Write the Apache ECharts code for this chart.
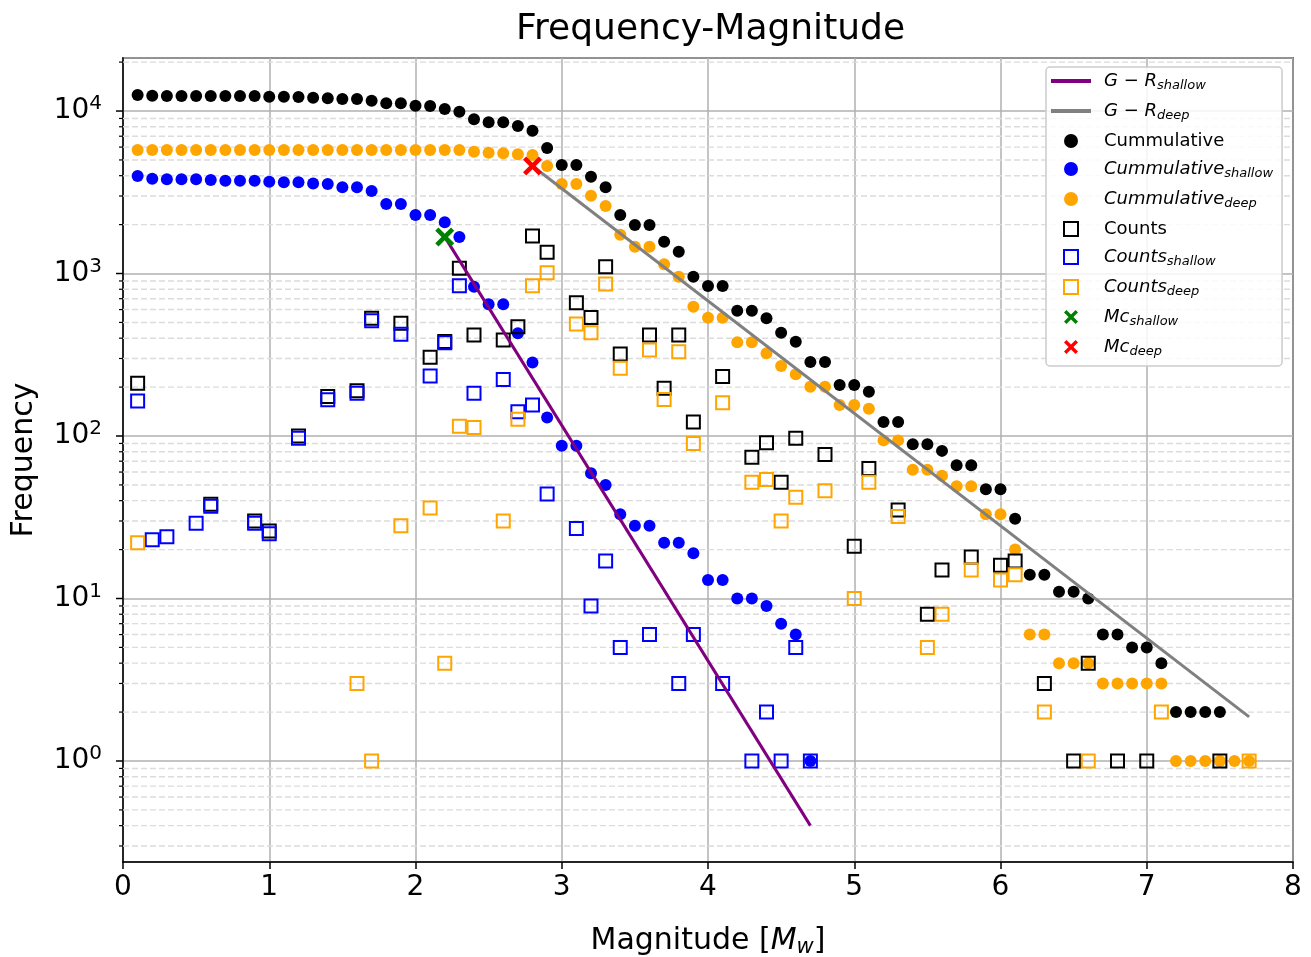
<!DOCTYPE html>
<html>
<head>
<meta charset="utf-8">
<title>Frequency-Magnitude</title>
<script src="https://cdn.jsdelivr.net/npm/echarts/dist/echarts.min.js"></script>
<style>
  html, body { margin: 0; padding: 0; background: #fff; }
  #chart { width: 1311px; height: 957px; }
</style>
</head>
<body>
<div id="chart"></div>
<script>
// magnitude bins (cumulative series start at the first bin)
var mags = [0.1, 0.2, 0.3, 0.4, 0.5, 0.6, 0.7, 0.8, 0.9, 1.0,
            1.1, 1.2, 1.3, 1.4, 1.5, 1.6, 1.7, 1.8, 1.9, 2.0,
            2.1, 2.2, 2.3, 2.4, 2.5, 2.6, 2.7, 2.8, 2.9, 3.0,
            3.1, 3.2, 3.3, 3.4, 3.5, 3.6, 3.7, 3.8, 3.9, 4.0,
            4.1, 4.2, 4.3, 4.4, 4.5, 4.6, 4.7, 4.8, 4.9, 5.0,
            5.1, 5.2, 5.3, 5.4, 5.5, 5.6, 5.7, 5.8, 5.9, 6.0,
            6.1, 6.2, 6.3, 6.4, 6.5, 6.6, 6.7, 6.8, 6.9, 7.0,
            7.1, 7.2, 7.3, 7.4, 7.5, 7.6, 7.7];

// cumulative counts
var cumAll = [12550, 12430, 12370, 12370, 12370, 12370, 12370, 12370, 12370,
              12250, 12250, 12190, 12080, 11970, 11850, 11850, 11580, 11150, 11150,
              10790, 10730, 10290, 9910, 8890, 8520, 8520, 8090, 7570, 5920,
              4650, 4650, 3940, 3390, 2290, 1990, 1990, 1570, 1360, 955,
              838, 838, 590, 590, 530, 432, 380, 285, 285, 206,
              206, 187, 122, 122, 89, 89, 81, 66, 66, 47,
              47, 31, 14, 14, 11, 11, 10, 6, 6, 5,
              5, 4, 2, 2, 2, 2];
var cumShallow = [3980, 3830, 3800, 3800, 3800, 3760, 3720, 3720, 3720,
                  3670, 3640, 3640, 3580, 3560, 3390, 3390, 3220, 2680, 2680,
                  2290, 2290, 2070, 1680, 829, 646, 646, 429, 283, 130,
                  87, 87, 59, 50, 33, 28, 28, 22, 22, 19,
                  13, 13, 10, 10, 9, 7, 6, 1];
var cumDeep = [5750, 5750, 5750, 5750, 5750, 5750, 5750, 5750, 5750,
               5750, 5750, 5750, 5750, 5750, 5750, 5750, 5750, 5750, 5750,
               5750, 5750, 5750, 5750, 5620, 5540, 5500, 5420, 5360, 4590,
               3550, 3550, 3010, 2600, 1730, 1460, 1460, 1140, 955, 625,
               535, 535, 377, 377, 323, 270, 240, 201, 201, 155,
               155, 147, 94, 94, 62, 62, 57, 49, 49, 33,
               33, 20, 6, 6, 4, 4, 4, 3, 3, 3,
               3, 3, 1, 1, 1, 1, 1, 1];

// counts per bin
var countAllMag = [0.1, 0.6, 0.9, 1.0, 1.2, 1.4, 1.6, 1.7, 1.9, 2.1, 2.2, 2.3, 2.4, 2.6, 2.7,
                   2.8, 2.9, 3.1, 3.2, 3.3, 3.4, 3.6, 3.7, 3.8, 3.9, 4.1, 4.3, 4.4, 4.5, 4.6,
                   4.8, 5.0, 5.1, 5.3, 5.5, 5.6, 5.8, 6.0, 6.1, 6.3, 6.5, 6.6, 6.8, 7.0, 7.5];
var countAll = [211, 38, 30, 26, 100, 175, 190, 530, 494, 305, 381, 1077, 419, 390, 471,
                1700, 1350, 661, 537, 1100, 320, 419, 197, 419, 122, 232, 74, 91, 52, 97,
                77, 21, 63, 35, 8, 15, 18, 16, 17, 3, 1, 4, 1, 1, 1];
var countShallowMag = [0.1, 0.2, 0.3, 0.5, 0.6, 0.9, 1.0, 1.2, 1.4, 1.6, 1.7, 1.9, 2.1, 2.2, 2.3,
                       2.4, 2.6, 2.7, 2.8, 2.9, 3.1, 3.2, 3.3, 3.4, 3.6, 3.8, 3.9, 4.1, 4.3, 4.4,
                       4.5, 4.6, 4.7];
var countShallow = [164, 23, 24, 29, 37, 29, 25, 97, 167, 183, 512, 423, 234, 375, 841,
                    183, 223, 141, 155, 44, 27, 9, 17, 5, 6, 3, 6, 3, 1, 2,
                    1, 5, 1];
var countDeepMag = [0.1, 1.6, 1.7, 1.9, 2.1, 2.2, 2.3, 2.4, 2.6, 2.7, 2.8, 2.9, 3.1, 3.2, 3.3,
                    3.4, 3.6, 3.7, 3.8, 3.9, 4.1, 4.3, 4.4, 4.5, 4.6, 4.8, 5.0, 5.1, 5.3, 5.5,
                    5.6, 5.8, 6.0, 6.1, 6.3, 6.6, 7.1, 7.7];
var countDeep = [22, 3, 1, 28, 36, 4, 115, 113, 30, 127, 841, 1011, 489, 432, 862,
                 261, 338, 168, 330, 90, 160, 52, 54, 30, 42, 46, 10, 52, 32, 5,
                 8, 15, 13, 14, 2, 1, 2, 1];

// Gutenberg-Richter fits (end points) and completeness magnitudes
var grShallowMag = [2.2, 4.7];
var grShallow = [1680, 0.40];
var grDeepMag = [2.8, 7.7];
var grDeep = [4590, 1.87];
var mcShallow = [2.2, 1680];
var mcDeep = [2.8, 4590];

// log axis ticks
var majorTicks = [1, 10, 100, 1000, 10000];
var minorTicks = [0.3, 0.4, 0.5, 0.6, 0.7, 0.8, 0.9,
                  2, 3, 4, 5, 6, 7, 8, 9,
                  20, 30, 40, 50, 60, 70, 80, 90,
                  200, 300, 400, 500, 600, 700, 800, 900,
                  2000, 3000, 4000, 5000, 6000, 7000, 8000, 9000,
                  20000];

var FONT = 'DejaVu Sans';
var X_PATH = 'path://M0,1.7L1.7,0L5,3.3L8.3,0L10,1.7L6.7,5L10,8.3L8.3,10L5,6.7L1.7,10L0,8.3L3.3,5Z';
var SQ_PATH = 'path://M0,0L10,0L10,10L0,10Z';
var BAR_PATH = 'path://M0,0L40,0L40,4L0,4Z';

function pairs(xs, ys) {
    return ys.map(function (v, i) { return [xs[i], v]; });
}

var legendText = {
    'G-R shallow': '{g|}{it|G − R}{sub|shallow}',
    'G-R deep': '{g|}{it|G − R}{sub|deep}',
    'Cummulative': '{g|}{n|Cummulative}',
    'Cummulative shallow': '{g|}{it|Cummulative}{sub|shallow}',
    'Cummulative deep': '{g|}{it|Cummulative}{sub|deep}',
    'Counts': '{g|}{n|Counts}',
    'Counts shallow': '{g|}{it|Counts}{sub|shallow}',
    'Counts deep': '{g|}{it|Counts}{sub|deep}',
    'Mc shallow': '{g|}{it|Mc}{sub|shallow}',
    'Mc deep': '{g|}{it|Mc}{sub|deep}'
};

function dots(name, data, color) {
    return {
        name: name, type: 'scatter', data: data, symbol: 'circle', symbolSize: 12,
        itemStyle: { color: color, opacity: 1 }, z: 2, silent: true
    };
}

function squares(name, data, color) {
    return {
        name: name, type: 'scatter', data: data, symbol: SQ_PATH, symbolSize: 13,
        itemStyle: { color: 'rgba(0,0,0,0)', borderColor: color, borderWidth: 2, opacity: 1 },
        z: 2, silent: true
    };
}

// minor grid lines + all y ticks, through the axis scale
function tickItem(params, api) {
    var v = api.value(1);
    var major = api.value(2) === 1;
    var p0 = api.coord([0, v]);
    var p1 = api.coord([8, v]);
    var children = [{
        type: 'line',
        shape: { x1: p0[0] - (major ? 7 : 4), y1: p0[1], x2: p0[0], y2: p0[1] },
        style: { stroke: '#000', lineWidth: major ? 1.5 : 1.2 }
    }];
    if (!major) {
        children.push({
            type: 'line',
            shape: { x1: p0[0], y1: p0[1], x2: p1[0], y2: p1[1] },
            style: { stroke: '#dcdcdc', lineWidth: 1.4, lineDash: [6, 3] }
        });
    }
    return { type: 'group', children: children };
}

var tickData = majorTicks.map(function (v) { return [0, v, 1]; })
    .concat(minorTicks.map(function (v) { return [0, v, 0]; }));

var chart = echarts.init(document.getElementById('chart'));

var option = {
    animation: false,
    backgroundColor: '#fff',
    textStyle: { fontFamily: FONT },
    title: {
        text: 'Frequency-Magnitude',
        left: 511,
        top: 7,
        textStyle: { fontFamily: FONT, fontSize: 36, fontWeight: 'normal', color: '#000' }
    },
    grid: {
        left: 123, right: 18, top: 58, bottom: 95,
        outerBoundsMode: 'none',
        containLabel: false,
        show: true, borderColor: '#000', borderWidth: 1.5, backgroundColor: 'transparent'
    },
    legend: {
        orient: 'vertical',
        left: 1046,
        top: 67,
        padding: [5, 9, 8, 5],
        itemGap: 10,
        itemWidth: 40,
        itemHeight: 14,
        selectedMode: false,
        backgroundColor: 'rgba(255,255,255,0.85)',
        borderColor: '#cccccc',
        borderWidth: 1.5,
        borderRadius: 4,
        data: [
            { name: 'G-R shallow', icon: BAR_PATH },
            { name: 'G-R deep', icon: BAR_PATH },
            { name: 'Cummulative', icon: 'circle' },
            { name: 'Cummulative shallow', icon: 'circle' },
            { name: 'Cummulative deep', icon: 'circle' },
            { name: 'Counts', icon: SQ_PATH },
            { name: 'Counts shallow', icon: SQ_PATH },
            { name: 'Counts deep', icon: SQ_PATH },
            { name: 'Mc shallow', icon: X_PATH },
            { name: 'Mc deep', icon: X_PATH }
        ],
        formatter: function (name) { return legendText[name]; },
        textStyle: {
            fontFamily: FONT, fontSize: 18, color: '#000',
            rich: {
                g: { width: 8, lineHeight: 22 },
                n: { fontSize: 18, fontFamily: FONT, lineHeight: 22 },
                it: { fontSize: 18, fontFamily: FONT, fontStyle: 'italic', lineHeight: 22 },
                sub: { fontSize: 13, fontFamily: FONT, fontStyle: 'italic', lineHeight: 13, verticalAlign: 'bottom' }
            }
        }
    },
    xAxis: {
        type: 'value', min: 0, max: 8, interval: 1,
        axisLine: { show: true, lineStyle: { color: '#000', width: 1.5 } },
        axisTick: { show: true, length: 7, lineStyle: { color: '#000', width: 1.5 } },
        axisLabel: { fontFamily: FONT, fontSize: 28, color: '#000', margin: 12 },
        splitLine: { show: true, lineStyle: { color: '#b0b0b0', width: 1.5 } },
        name: 'Magnitude [{it|M}{sub|w}]',
        nameLocation: 'middle',
        nameGap: 62,
        nameTextStyle: {
            fontFamily: FONT, fontSize: 30, color: '#000',
            rich: {
                it: { fontFamily: FONT, fontSize: 30, fontStyle: 'italic', lineHeight: 34 },
                sub: { fontFamily: FONT, fontSize: 21, fontStyle: 'italic', lineHeight: 20, verticalAlign: 'bottom' }
            }
        }
    },
    yAxis: {
        type: 'log', logBase: 10, min: 0.239, max: 21200, splitNumber: 5,
        axisLine: { show: true, lineStyle: { color: '#000', width: 1.5 } },
        axisTick: { show: false },
        axisLabel: {
            color: '#000', margin: 21,
            formatter: function (v) {
                var e = Math.log10(v);
                if (Math.abs(e - Math.round(e)) > 1e-6) return '';
                return '{b|10}{s|' + Math.round(e) + '}';
            },
            rich: {
                b: { fontFamily: FONT, fontSize: 28, lineHeight: 34 },
                s: { fontFamily: FONT, fontSize: 20, lineHeight: 22, verticalAlign: 'top' }
            }
        },
        splitLine: { show: true, lineStyle: { color: '#b0b0b0', width: 1.5 } },
        name: 'Frequency',
        nameLocation: 'middle',
        nameGap: 84,
        nameTextStyle: { fontFamily: FONT, fontSize: 30, color: '#000' }
    },
    series: [
        {
            name: 'ticks', type: 'custom', renderItem: tickItem, data: tickData,
            encode: { x: 0, y: 1 }, clip: false, silent: true, z: 1
        },
        dots('Cummulative', pairs(mags, cumAll), '#000000'),
        dots('Cummulative shallow', pairs(mags, cumShallow), '#0000ff'),
        dots('Cummulative deep', pairs(mags, cumDeep), '#ffa500'),
        squares('Counts', pairs(countAllMag, countAll), '#000000'),
        squares('Counts shallow', pairs(countShallowMag, countShallow), '#0000ff'),
        squares('Counts deep', pairs(countDeepMag, countDeep), '#ffa500'),
        {
            name: 'G-R shallow', type: 'line', data: pairs(grShallowMag, grShallow),
            symbol: 'none', lineStyle: { color: '#800080', width: 3 }, itemStyle: { color: '#800080' },
            z: 3, silent: true
        },
        {
            name: 'G-R deep', type: 'line', data: pairs(grDeepMag, grDeep),
            symbol: 'none', lineStyle: { color: '#808080', width: 3 }, itemStyle: { color: '#808080' },
            z: 3, silent: true
        },
        {
            name: 'Mc shallow', type: 'scatter', data: [mcShallow], symbol: X_PATH, symbolSize: 19,
            itemStyle: { color: '#008000', opacity: 1 }, z: 4, silent: true
        },
        {
            name: 'Mc deep', type: 'scatter', data: [mcDeep], symbol: X_PATH, symbolSize: 19,
            itemStyle: { color: '#ff0000', opacity: 1 }, z: 4, silent: true
        }
    ]
};

chart.setOption(option);
</script>
</body>
</html>
